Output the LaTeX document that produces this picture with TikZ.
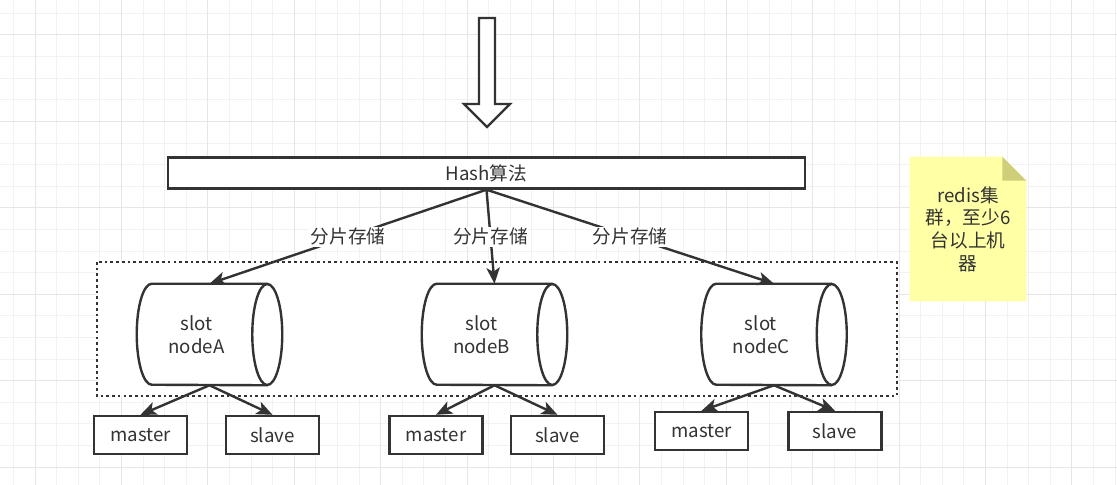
\documentclass[tikz,border=0pt]{standalone}
\usepackage{fontspec}
\setmainfont{Noto Sans CJK SC}
\usetikzlibrary{arrows.meta}
\definecolor{ink}{HTML}{333333}
\definecolor{gridminor}{HTML}{F2F2F2}
\definecolor{gridmajor}{HTML}{E6E6E6}
\definecolor{notefill}{HTML}{FFFFA6}
\definecolor{notefold}{HTML}{CFCF7A}
\tikzset{
  box/.style={draw=ink, line width=1.8pt, fill=white, text=ink,
    minimum width=93*0.75pt, minimum height=38*0.75pt},
  slotdb/.style={minimum width=145*0.75pt, minimum height=101*0.75pt},
  slottext/.style={text=ink, align=center},
  link/.style={draw=ink, line width=1.8pt, -{Stealth[length=12pt,width=10pt,inset=3pt]}},
  tag/.style={fill=white, text=ink, inner sep=1pt},
}
\begin{document}
\begin{tikzpicture}[x=0.75pt, y=-0.75pt, font=\fontsize{14pt}{17pt}\selectfont]
  \useasboundingbox (0,0) rectangle (1117,485);
  \fill[white] (0,0) rectangle (1117,485);
  % grid
  \foreach \k in {0,...,51}
    \draw[gridminor, line width=0.75pt] ({13.4+21.6*\k},0) -- ++(0,485);
  \foreach \k in {0,...,22}
    \draw[gridminor, line width=0.75pt] (0,{13.4+21.6*\k}) -- ++(1117,0);
  \foreach \k in {1,5,...,49}
    \draw[gridmajor, line width=0.75pt] ({13.4+21.6*\k},0) -- ++(0,485);
  \foreach \k in {1,5,...,21}
    \draw[gridmajor, line width=0.75pt] (0,{13.4+21.6*\k}) -- ++(1117,0);

  % input arrow
  \draw[ink, fill=white, line width=1.8pt] (479,18) -- (495,18) -- (495,104) -- (510,104)
    -- (487,127) -- (464,104) -- (479,104) -- cycle;

  % cluster
  \draw[ink, fill=white, line width=2pt, dash pattern=on 2pt off 2.3pt] (97,262) rectangle (897,396);

  \node[box, minimum width=637*0.75pt, minimum height=31*0.75pt] (hash) at (486.5,173) {Hash算法};

  \node[slotdb] (cylA) at (209.5,334.5) {};
  \node[slotdb] (cylB) at (494.5,334.5) {};
  \node[slotdb] (cylC) at (774,334.5) {};
  \foreach \c in {cylA,cylB,cylC} {
    \draw[ink, fill=white, line width=1.8pt] ([xshift=-11.25pt]\c.north east) -- ([xshift=11.25pt]\c.north west)
      arc[start angle=90, end angle=270, x radius=11.25pt, y radius=37.875pt]
      -- ([xshift=-11.25pt]\c.south east);
    \draw[ink, fill=white, line width=1.8pt] ([xshift=-11.25pt]\c.east) ellipse[x radius=11.25pt, y radius=37.875pt];
  }
  \node[slottext] (tA) at ([xshift=-13*0.75pt]cylA.center) {slot\\nodeA};
  \node[slottext] (tB) at ([xshift=-13*0.75pt]cylB.center) {slot\\nodeB};
  \node[slottext] (tC) at ([xshift=-13*0.75pt]cylC.center) {slot\\nodeC};

  \node[box] (mA) at (140.5,435) {master};
  \node[box] (sA) at (272.5,435) {slave};
  \node[box] (mB) at (436,435) {master};
  \node[box] (sB) at (557.5,435) {slave};
  \node[box] (mC) at (701.5,431) {master};
  \node[box] (sC) at (835,431) {slave};

  \draw[link] (hash.south) -- node[tag] {分片存储} (cylA.north);
  \draw[link] (hash.south) -- node[tag] {分片存储} (cylB.north);
  \draw[link] (hash.south) -- node[tag] {分片存储} (cylC.north);

  \draw[link] (cylA.south) -- (mA.north);
  \draw[link] (cylA.south) -- (sA.north);
  \draw[link] (cylB.south) -- (mB.north);
  \draw[link] (cylB.south) -- (sB.north);
  \draw[link] (cylC.south) -- (mC.north);
  \draw[link] (cylC.south) -- (sC.north);

  % note
  \node[minimum width=116*0.75pt, minimum height=144*0.75pt] (note) at (968,229) {};
  \fill[notefill] (note.north west) -- ([xshift=-24*0.75pt]note.north east)
    -- ([yshift=-24*0.75pt]note.north east) -- (note.south east) -- (note.south west) -- cycle;
  \fill[notefold] ([xshift=-24*0.75pt]note.north east) -- ([yshift=-24*0.75pt]note.north east)
    -- ([xshift=-24*0.75pt, yshift=-24*0.75pt]note.north east) -- cycle;
  \node[text=ink, align=center] (notetext) at (note.center) {redis集\\群，至少6\\台以上机\\器};
\end{tikzpicture}
\end{document}
